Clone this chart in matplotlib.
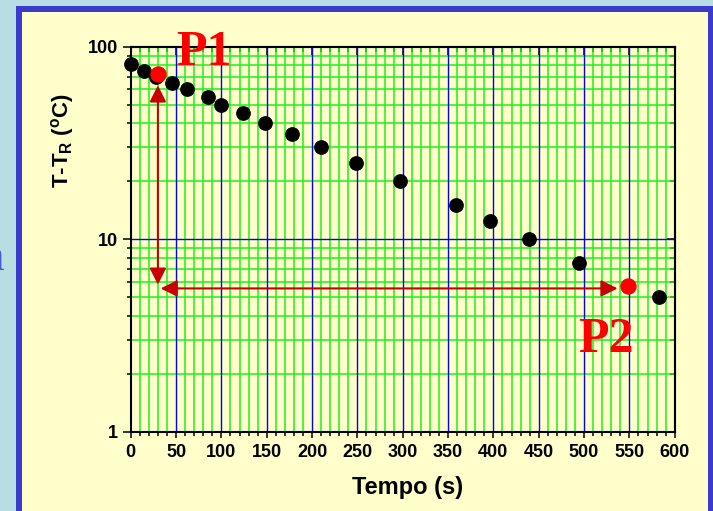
import numpy as np
import matplotlib
matplotlib.use("Agg")
import matplotlib.pyplot as plt
from matplotlib.patches import Rectangle
from matplotlib.ticker import MultipleLocator, LogLocator, NullFormatter, FuncFormatter

# dados
tempo = [0, 15, 28, 45, 62, 85, 100, 124, 148, 178, 210, 248, 297, 359, 396, 439, 494, 583]
temp = [81, 75, 70, 65, 60, 55, 50, 45, 40, 35, 30, 25, 20, 15, 12.5, 10, 7.5, 5]
p1 = (30, 72)
p2 = (548, 5.7)
# setas: vertical (x, y de cima, y de baixo), horizontal (y, x esq, x dir)
seta_v = (30, 63, 5.8)
seta_h = (5.55, 33, 537)

W, H = 713, 511
azul_claro = '#b8dee3'
amarelo = '#ffffcc'
azul_borda = '#3a3acc'
verde = '#22ee22'
vermelho_seta = '#c80000'

plt.rcParams['font.family'] = ['Liberation Sans', 'DejaVu Sans']
plt.rcParams['font.weight'] = 'bold'

fig = plt.figure(figsize=(W / 100, H / 100), dpi=100, facecolor=azul_claro)

# moldura azul e fundo amarelo
fig.add_artist(Rectangle((16 / W, -0.1), 2, (H - 6) / H + 0.1, transform=fig.transFigure,
                         facecolor=azul_borda, edgecolor='none', zorder=0))
fig.add_artist(Rectangle((21.7 / W, -0.1), (708.3 - 21.7) / W, (H - 11.7) / H + 0.1,
                         transform=fig.transFigure, facecolor=amarelo, edgecolor='none', zorder=0))
# pedaco de letra do slide, cortado na borda esquerda
fig.text(5 / W, (H - 270) / H, 'n', color='#4a5ad0', fontsize=34, family='Liberation Serif',
         fontweight='normal', ha='right', va='baseline')

ax = fig.add_axes([130.7 / W, (H - 431.7) / H, 544 / W, 385 / H])
ax.set_facecolor(amarelo)
ax.set_yscale('log')
ax.set_xlim(0, 600)
ax.set_ylim(1, 100)

ax.xaxis.set_major_locator(MultipleLocator(50))
ax.xaxis.set_minor_locator(MultipleLocator(10))
ax.yaxis.set_major_locator(LogLocator(base=10))
ax.yaxis.set_minor_locator(LogLocator(base=10, subs=np.arange(2, 10)))
ax.yaxis.set_major_formatter(FuncFormatter(lambda v, p: '%d' % v))
ax.yaxis.set_minor_formatter(NullFormatter())

# grade verde (menor) e azul (maior) por cima da verde
ax.grid(which='minor', color=verde, lw=1.1)
ax.set_axisbelow(True)
for xv in ax.get_xticks():
    if 0 < xv < 600:
        ax.axvline(xv, color='#0000ff', lw=1.0, zorder=1)
for yv in ax.get_yticks():
    if 1 < yv < 100:
        ax.axhline(yv, color='#0000ff', lw=1.0, zorder=1)

for s in ax.spines.values():
    s.set_linewidth(1.5)
ax.tick_params(axis='y', which='major', direction='out', length=6, width=1.1, labelsize=13, pad=3)
ax.tick_params(axis='y', which='minor', direction='out', length=3, width=1.1)
ax.tick_params(axis='x', which='major', direction='out', length=4, width=1.1, labelsize=13, pad=5)
ax.tick_params(axis='x', which='minor', direction='out', length=3, width=1.1)

# eixos de cima e da direita com ticks para dentro
topo = ax.secondary_xaxis('top')
topo.xaxis.set_major_locator(MultipleLocator(50))
topo.xaxis.set_minor_locator(MultipleLocator(10))
topo.xaxis.set_major_formatter(NullFormatter())
topo.tick_params(which='major', direction='in', length=6, width=1.1)
topo.tick_params(which='minor', direction='in', length=3.5, width=1.1)
topo.spines['top'].set_linewidth(1.5)

dir_ = ax.secondary_yaxis('right')
dir_.yaxis.set_major_locator(LogLocator(base=10))
dir_.yaxis.set_minor_locator(LogLocator(base=10, subs=np.arange(2, 10)))
dir_.yaxis.set_major_formatter(NullFormatter())
dir_.yaxis.set_minor_formatter(NullFormatter())
dir_.tick_params(which='major', direction='in', length=6, width=1.1)
dir_.tick_params(which='minor', direction='in', length=3.5, width=1.1)
dir_.spines['right'].set_linewidth(1.5)

ax.plot(tempo, temp, 'o', color='black', ms=9.6, clip_on=False, zorder=3)
ax.plot([p1[0], p2[0]], [p1[1], p2[1]], 'o', color='#ff0000', ms=10.8, clip_on=False, zorder=4)

ax.annotate('', xy=(seta_v[0], seta_v[1]), xytext=(seta_v[0], seta_v[2]),
            arrowprops=dict(arrowstyle='<|-|>', color=vermelho_seta, lw=1.5,
                            mutation_scale=25, shrinkA=0, shrinkB=0), zorder=5)
ax.annotate('', xy=(seta_h[1], seta_h[0]), xytext=(seta_h[2], seta_h[0]),
            arrowprops=dict(arrowstyle='<|-|>', color=vermelho_seta, lw=1.5,
                            mutation_scale=25, shrinkA=0, shrinkB=0), zorder=5)

ax.text(80.3, 80.3, 'P1', color='#ff0000', fontsize=36, family='Liberation Serif',
        fontweight='bold', ha='center', va='baseline', zorder=6)
ax.text(524.4, 2.6, 'P2', color='#ff0000', fontsize=36, family='Liberation Serif',
        fontweight='bold', ha='center', va='baseline', zorder=6)

fig.text(408 / W, 1 - 487 / H, 'Tempo (s)', fontsize=17, fontweight='bold',
         ha='center', va='center')
fig.text(62 / W, 1 - 141 / H, r'T-T$_\mathregular{R}$ ($^\mathregular{o}$C)', fontsize=16,
         fontweight='bold', rotation=90, ha='center', va='center')

fig.savefig('out.png', dpi=100, facecolor=azul_claro)
